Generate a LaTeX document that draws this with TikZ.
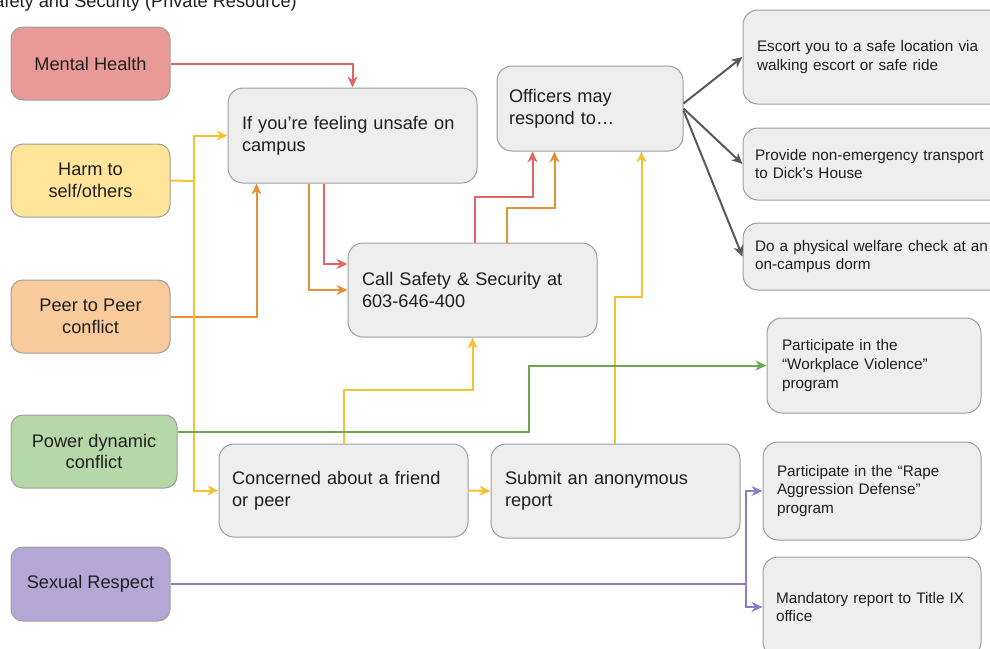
\documentclass[tikz,border=0pt]{standalone}
\usepackage{fontspec}
\setmainfont{Liberation Sans}
\usetikzlibrary{calc,arrows.meta}
\definecolor{mhfill}{HTML}{EA9999}
\definecolor{harmfill}{HTML}{FFE599}
\definecolor{peerfill}{HTML}{F9CB9C}
\definecolor{powfill}{HTML}{B6D7A8}
\definecolor{sexfill}{HTML}{B4A7D6}
\definecolor{boxgray}{HTML}{EEEEEE}
\definecolor{bordergray}{HTML}{9E9E9E}
\definecolor{textc}{HTML}{1F1F1F}
\definecolor{cred}{HTML}{E06666}
\definecolor{corange}{HTML}{E69138}
\definecolor{cyellow}{HTML}{F1C232}
\definecolor{cgreen}{HTML}{6AA84F}
\definecolor{cpurple}{HTML}{8E7CC3}
\definecolor{cgray}{HTML}{595959}
\begin{document}
\begin{tikzpicture}[x=1pt,y=-1pt,
  bigfont/.style={font=\fontsize{18.2}{21.7}\selectfont},
  smallfont/.style={font=\fontsize{15.3}{18.6}\selectfont},
  colbox/.style={draw=bordergray, line width=1pt, rounded corners=12pt, align=center,
    text=textc, inner sep=0pt, bigfont},
  graybox/.style={draw=bordergray, fill=boxgray, line width=1pt, rounded corners=15pt,
    align=left, text=textc, inner ysep=0pt},
  conn/.style={line width=2pt, -{Stealth[length=11pt,width=10pt,inset=3.5pt]}},
  plain/.style={line width=2pt}
]
\useasboundingbox (0,0) rectangle (990,648);
\clip (0,0) rectangle (990,648);

% title (cut off at the top-left edge, as in the reference)
\node[anchor=base east, bigfont, text=textc, inner sep=0pt] (title) at (297,7) {Safety and Security (Private Resource)};

% left colored boxes
\node[colbox, fill=mhfill, minimum width=159pt, minimum height=73pt] (mh) at (90.5,63.5) {Mental Health};
\node[colbox, fill=harmfill, minimum width=159pt, minimum height=73pt] (harm) at (90.5,180.5) {Harm to\\self/others};
\node[colbox, fill=peerfill, minimum width=159pt, minimum height=73pt] (peer) at (90.5,316.5) {Peer to Peer\\conflict};
\node[colbox, fill=powfill, minimum width=166pt, minimum height=73pt] (power) at (94,451.5) {Power dynamic\\conflict};
\node[colbox, fill=sexfill, minimum width=159pt, minimum height=74pt] (sex) at (90.5,584) {Sexual Respect};

% middle gray boxes
\node[graybox, bigfont, inner xsep=14pt, text width=221pt, minimum height=95pt] (ifbox) at (352.5,135.5) {If you’re feeling unsafe on\\campus};
\node[graybox, bigfont, inner xsep=12pt, text width=162pt, minimum height=85pt] (off) at (590,108.5) {Officers may\\respond to…};
\node[graybox, bigfont, inner xsep=14pt, text width=221pt, minimum height=94pt] (call) at (472.5,290) {Call Safety \& Security at\\603-646-400};
\node[graybox, bigfont, inner xsep=13pt, text width=223pt, minimum height=93pt] (concern) at (343.5,490.5) {Concerned about a friend\\or peer};
\node[graybox, bigfont, inner xsep=14pt, text width=221pt, minimum height=94pt] (submit) at (615.5,491) {Submit an anonymous\\report};

% right boxes
\node[graybox, smallfont, inner xsep=14pt, text width=242pt, minimum height=94pt] (escort) at (878,57) {Escort you to a safe location via\\walking escort or safe ride};
\node[graybox, smallfont, inner xsep=12pt, text width=246pt, minimum height=72pt] (provide) at (878,164) {Provide non-emergency transport\\to Dick’s House};
\node[graybox, smallfont, inner xsep=12pt, text width=246pt, minimum height=67pt] (check) at (878,256.5) {Do a physical welfare check at an\\on-campus dorm};
\node[graybox, smallfont, inner xsep=15pt, text width=184pt, minimum height=95pt] (wp) at (874,365.5) {Participate in the\\“Workplace Violence”\\program};
\node[graybox, smallfont, inner xsep=14pt, text width=190pt, minimum height=98pt] (rape) at (872,491) {Participate in the “Rape\\Aggression Defense”\\program};
\node[graybox, smallfont, inner xsep=13pt, text width=192pt, minimum height=100pt] (mand) at (872,607) {Mandatory report to Title IX\\office};

% junction coordinates
\coordinate (yj) at (194,181);
\coordinate (pj) at (746,584);

% red
\draw[conn, cred] (mh.east) -| (ifbox.north);
\draw[conn, cred] ($(ifbox.south west)+(96,0)$) |- ($(call.west)+(0,-26)$);
\draw[conn, cred] ($(call.north west)+(127,0)$) -- ($(call.north west)+(127,-46)$) -| ($(off.south west)+(36,0)$);

% orange
\draw[conn, corange] (peer.east) -| ($(ifbox.south west)+(29,0)$);
\draw[conn, corange] ($(ifbox.south west)+(81,0)$) |- (call.west);
\draw[conn, corange] ($(call.north west)+(159,0)$) -- ($(call.north west)+(159,-35)$) -| ($(off.south west)+(58,0)$);

% yellow
\draw[plain, cyellow] (harm.east) -- (yj);
\draw[conn, cyellow] (yj) |- (ifbox.west);
\draw[conn, cyellow] (yj) |- (concern.west);
\draw[conn, cyellow] ($(concern.north west)+(125,0)$) -- ($(concern.north west)+(125,-54)$) -| ($(call.south west)+(125,0)$);
\draw[conn, cyellow] (concern.east) -- (submit.west);
\draw[conn, cyellow] ($(submit.north west)+(124,0)$) -- ($(submit.north west)+(124,-147)$) -| ($(off.south west)+(145,0)$);

% green
\draw[conn, cgreen] ($(power.east)+(0,-20)$) -- ++(351,0) |- (wp.west);

% purple
\draw[plain, cpurple] (sex.east) -- (pj);
\draw[conn, cpurple] (pj) |- (rape.west);
\draw[conn, cpurple] (pj) |- (mand.west);

% gray
\draw[conn, cgray] ($(off.east)+(0,-5)$) -- (escort.west);
\draw[conn, cgray] (off.east) -- (provide.west);
\draw[conn, cgray] ($(off.east)+(0,2)$) -- (check.west);
\end{tikzpicture}
\end{document}
